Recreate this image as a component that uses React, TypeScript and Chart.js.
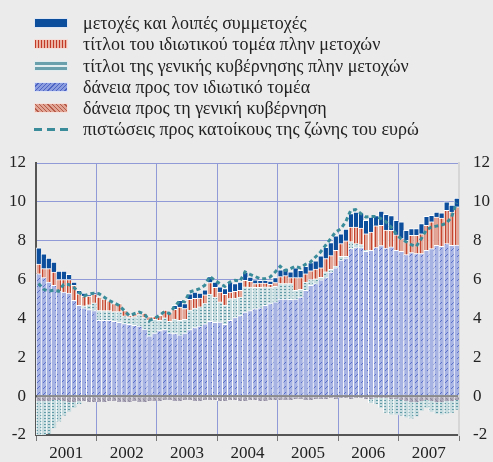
import React, { useEffect, useRef } from "react";
import { Chart, registerables } from "chart.js";

Chart.register(...registerables);

const SERIF = '"Liberation Serif", "Times New Roman", Times, serif';

const YEARS = ["2001", "2002", "2003", "2004", "2005", "2006", "2007"];
const MONTH_LABELS = YEARS.flatMap((y) =>
  ["01", "02", "03", "04", "05", "06", "07", "08", "09", "10", "11", "12"].map((m) => `${y}-${m}`)
);
const Y_TICKS = [-2, 0, 2, 4, 6, 8, 10, 12];

// δάνεια προς τον ιδιωτικό τομέα
const loansPrivate = [
  6.3, 6.1, 5.87, 5.7, 5.4, 5.35, 5.3, 4.93, 4.67, 4.55, 4.45, 4.4,
  3.9, 3.9, 3.9, 3.85, 3.8, 3.73, 3.7, 3.64, 3.6, 3.45, 3.1, 3.25,
  3.38, 3.43, 3.25, 3.22, 3.15, 3.25, 3.43, 3.53, 3.6, 3.72, 3.85, 3.8,
  3.81, 3.69, 3.9, 4.05, 4.15, 4.33, 4.41, 4.5, 4.55, 4.67, 4.76, 4.85,
  5.0, 5.0, 4.98, 5.0, 5.1, 5.44, 5.7, 5.79, 5.99, 6.1, 6.38, 6.6,
  7.0, 7.1, 7.6, 7.65, 7.65, 7.45, 7.5, 7.65, 7.75, 7.62, 7.68, 7.5,
  7.46, 7.28, 7.39, 7.34, 7.34, 7.5, 7.59, 7.76, 7.71, 7.85, 7.76, 7.78,
];
// δάνεια προς τη γενική κυβέρνηση
const loansGov = [
  -0.25, -0.25, -0.25, -0.2, -0.2, -0.25, -0.3, -0.3, -0.25, -0.25, -0.3, -0.3,
  -0.3, -0.3, -0.25, -0.25, -0.3, -0.3, -0.3, -0.25, -0.3, -0.3, -0.25, -0.25,
  -0.25, -0.2, -0.2, -0.25, -0.25, -0.2, -0.2, -0.25, -0.25, -0.2, -0.2, -0.2,
  -0.25, -0.25, -0.2, -0.2, -0.25, -0.25, -0.2, -0.2, -0.25, -0.25, -0.2, -0.2,
  -0.2, -0.2, -0.2, -0.15, -0.15, -0.2, -0.2, -0.15, -0.15, -0.15, -0.1, -0.15,
  -0.1, -0.1, -0.15, -0.1, -0.1, -0.15, -0.15, -0.1, -0.1, -0.1, -0.15, -0.15,
  -0.2, -0.25, -0.3, -0.3, -0.25, -0.2, -0.25, -0.3, -0.3, -0.25, -0.25, -0.2,
];
// τίτλοι της γενικής κυβέρνησης πλην μετοχών
const govSecurities = [
  -1.85, -1.85, -1.7, -1.45, -1.1, -0.75, -0.5, -0.3, -0.15, 0.1, 0.25, 0.4,
  0.51, 0.5, 0.5, 0.5, 0.55, 0.4, 0.35, 0.45, 0.6, 0.6, 0.8, 0.7,
  0.52, 0.6, 0.6, 0.75, 0.75, 0.7, 1.0, 1.0, 1.0, 1.05, 1.4, 1.3,
  1.04, 1.0, 1.12, 1.0, 0.95, 1.29, 1.2, 1.1, 1.05, 0.95, 0.85, 0.8,
  0.8, 0.8, 0.82, 0.45, 0.4, 0.43, 0.3, 0.25, 0.12, 0.3, 0.15, 0.1,
  0.2, 0.1, 0.35, 0.2, 0.15, 0.05, -0.2, -0.3, -0.5, -0.75, -0.8, -0.8,
  -0.8, -0.85, -0.85, -0.75, -0.5, -0.4, -0.55, -0.6, -0.65, -0.65, -0.6, -0.5,
];
// τίτλοι του ιδιωτικού τομέα πλην μετοχών
const privSecurities = [
  0.5, 0.46, 0.69, 0.69, 0.6, 0.65, 0.7, 0.77, 0.6, 0.5, 0.45, 0.45,
  0.69, 0.6, 0.51, 0.41, 0.41, 0.28, 0.1, 0.18, 0.13, 0.22, 0.2, 0.15,
  0.26, 0.4, 0.42, 0.5, 0.69, 0.56, 0.55, 0.5, 0.45, 0.45, 0.6, 0.5,
  0.51, 0.55, 0.34, 0.35, 0.35, 0.34, 0.3, 0.2, 0.22, 0.2, 0.15, 0.2,
  0.35, 0.4, 0.3, 0.65, 0.6, 0.43, 0.45, 0.5, 0.5, 0.68, 0.7, 0.8,
  0.65, 0.8, 0.75, 0.85, 0.85, 0.86, 0.95, 1.12, 1.04, 0.93, 0.85, 0.8,
  0.65, 0.74, 0.89, 0.94, 1.02, 1.29, 1.38, 1.46, 1.46, 1.72, 1.72, 1.97,
];
// μετοχές και λοιπές συμμετοχές
const shares = [
  0.84, 0.77, 0.54, 0.51, 0.44, 0.44, 0.27, 0.17, 0.17, 0.15, 0.05, 0.05,
  0, 0, 0, 0, 0, 0, 0, 0, 0, 0, 0, 0,
  0, 0, 0, 0.2, 0.34, 0.25, 0.29, 0.33, 0.25, 0.25, 0.31, 0.27,
  0.26, 0.29, 0.51, 0.39, 0.42, 0.43, 0.22, 0.19, 0.14, 0.14, 0.16, 0.25,
  0.35, 0.36, 0.3, 0.5, 0.37, 0.38, 0.42, 0.43, 0.61, 0.58, 0.67, 0.75,
  0.51, 0.6, 0.7, 0.77, 0.78, 0.69, 0.77, 0.53, 0.74, 0.81, 0.77, 0.75,
  0.86, 0.52, 0.34, 0.34, 0.52, 0.47, 0.34, 0.26, 0.26, 0.43, 0.35, 0.45,
];
// πιστώσεις προς κατοίκους της ζώνης του ευρώ
const totalCredit = [
  5.8, 5.5, 5.4, 5.45, 5.4, 5.75, 5.75, 5.6, 5.35, 5.15, 5.25, 5.3,
  5.27, 5.1, 4.93, 4.8, 4.67, 4.41, 4.15, 4.24, 4.33, 4.24, 3.9, 4.0,
  4.15, 4.35, 4.25, 4.6, 4.9, 4.85, 5.36, 5.44, 5.53, 5.7, 6.16, 5.96,
  5.79, 5.65, 5.87, 5.96, 5.92, 6.39, 6.27, 6.16, 6.04, 6.04, 6.13, 6.39,
  6.68, 6.47, 6.56, 6.68, 6.6, 6.78, 6.9, 7.16, 7.42, 7.76, 8.1, 8.45,
  8.6, 8.97, 9.56, 9.6, 9.4, 9.22, 9.25, 9.25, 9.14, 8.97, 8.71, 8.36,
  8.1, 7.95, 7.8, 7.7, 8.1, 8.55, 8.7, 8.75, 8.8, 8.9, 9.2, 9.95,
];

const LEGEND = [
  "μετοχές και λοιπές συμμετοχές",
  "τίτλοι του ιδιωτικού τομέα πλην μετοχών",
  "τίτλοι της γενικής κυβέρνησης πλην μετοχών",
  "δάνεια προς τον ιδιωτικό τομέα",
  "δάνεια προς τη γενική κυβέρνηση",
  "πιστώσεις προς κατοίκους της ζώνης του ευρώ",
];

const GRID = "#8f9ad6";

function makePattern(w: number, h: number, draw: (g: CanvasRenderingContext2D) => void) {
  const c = document.createElement("canvas");
  c.width = w;
  c.height = h;
  const g = c.getContext("2d")!;
  draw(g);
  return g.createPattern(c, "repeat")!;
}

const swatchStyles: React.CSSProperties[] = [
  { background: "#0c4d9c", boxShadow: "0 0 0 1px #dfe6f3" },
  {
    background: "repeating-linear-gradient(90deg, #c23a26 0 1.5px, #ebb3a3 1.5px 3px)",
    boxShadow: "0 0 0 1px #f3e0dc",
  },
  {
    background: "linear-gradient(180deg, #6aa0ac 0 3px, #e4eef0 3px 5px, #6aa0ac 5px 8px)",
    boxShadow: "0 0 0 1px #e0ecee",
  },
  {
    background: "repeating-linear-gradient(135deg, #8b9ddf 0 2px, #4d64c4 2px 3px)",
    boxShadow: "0 0 0 1px #e0e5f5",
  },
  {
    background: "repeating-linear-gradient(45deg, #e0a594 0 2px, #b85a48 2px 3px)",
    boxShadow: "0 0 0 1px #f3e2dd",
  },
];

export default function App() {
  const ref = useRef<HTMLCanvasElement | null>(null);

  useEffect(() => {
    const canvas = ref.current!;
    const blueHatch = makePattern(6, 6, (g) => {
      g.fillStyle = "#a7b3e3";
      g.fillRect(0, 0, 6, 6);
      g.fillStyle = "#5a70c8";
      g.fillRect(1, 4, 1, 1);
      g.fillRect(2, 3, 1, 1);
      g.fillRect(3, 2, 1, 1);
    });
    const salmonHatch = makePattern(4, 4, (g) => {
      g.fillStyle = "#e2a593";
      g.fillRect(0, 0, 4, 4);
      g.fillStyle = "#c0624e";
      for (let i = 0; i < 4; i++) g.fillRect(i, i, 1, 1);
    });
    const mauveHatch = makePattern(4, 4, (g) => {
      g.fillStyle = "#aaa5b6";
      g.fillRect(0, 0, 4, 4);
      g.fillStyle = "#8f899e";
      for (let i = 0; i < 4; i++) g.fillRect(i, i, 1, 1);
    });
    const tealDash = makePattern(4, 3, (g) => {
      g.fillStyle = "#c6dcdf";
      g.fillRect(0, 0, 4, 3);
      g.fillStyle = "#5f9aa6";
      g.fillRect(0, 1, 2, 1);
    });
    const redStripe = makePattern(7, 1, (g) => {
      g.fillStyle = "#e3a696";
      g.fillRect(0, 0, 7, 1);
      g.fillStyle = "#c4442e";
      g.fillRect(0, 0, 1, 1);
      g.fillRect(4, 0, 1, 1);
    });

    const barCommon = {
      type: "bar" as const,
      borderColor: "#ffffff",
      borderWidth: { top: 1, left: 1, right: 0, bottom: 0 },
      barPercentage: 1,
      categoryPercentage: 1,
      stack: "main",
      order: 1,
      yAxisID: "y",
    };

    const chart = new Chart(canvas, {
      type: "bar",
      data: {
        labels: MONTH_LABELS,
        datasets: [
          { ...barCommon, label: LEGEND[3], data: loansPrivate, backgroundColor: blueHatch },
          {
            ...barCommon,
            label: LEGEND[4],
            data: loansGov,
            backgroundColor: (ctx: any) =>
              ctx.raw !== undefined && ctx.raw < 0 ? mauveHatch : salmonHatch,
          },
          { ...barCommon, label: LEGEND[2], data: govSecurities, backgroundColor: tealDash },
          { ...barCommon, label: LEGEND[1], data: privSecurities, backgroundColor: redStripe },
          { ...barCommon, label: LEGEND[0], data: shares, backgroundColor: "#0c4d9c" },
          {
            type: "line",
            label: LEGEND[5],
            data: totalCredit,
            borderColor: "#3a8c9a",
            borderWidth: 3,
            borderDash: [4, 3],
            pointRadius: 0,
            fill: false,
            tension: 0,
            stack: "line",
            order: 0,
            yAxisID: "y",
          } as any,
        ],
      },
      options: {
        animation: false,
        responsive: false,
        devicePixelRatio: 1,
        layout: { padding: { top: 163, left: 0, right: 0, bottom: 0 } },
        plugins: { legend: { display: false }, tooltip: { enabled: false } },
        scales: {
          x: {
            type: "category",
            stacked: true,
            offset: true,
            grid: {
              offset: true,
              drawTicks: true,
              tickLength: 6,
              color: (ctx: any) =>
                ctx.index === undefined || ctx.index % 12 === 0 ? GRID : "rgba(0,0,0,0)",
              tickColor: (ctx: any) =>
                ctx.index === undefined || ctx.index % 12 === 0 ? "#777777" : "rgba(0,0,0,0)",
            },
            border: { display: true, color: "#555555", width: 2 },
            ticks: {
              autoSkip: false,
              maxRotation: 0,
              minRotation: 0,
              padding: 2,
              labelOffset: 2.5,
              color: "#222222",
              font: { family: SERIF, size: 17 },
              callback: (_v: any, i: number) => (i % 12 === 5 ? YEARS[Math.floor(i / 12)] : ""),
            },
            afterFit: (s: any) => {
              s.height = 27;
            },
          },
          y: {
            position: "left",
            stacked: true,
            min: -2,
            max: 12,
            afterBuildTicks: (s: any) => {
              s.ticks = Y_TICKS.map((v) => ({ value: v }));
            },
            grid: {
              drawTicks: false,
              color: (ctx: any) => (ctx.tick && ctx.tick.value === 0 ? "#8a8a8a" : GRID),
              lineWidth: (ctx: any) => (ctx.tick && ctx.tick.value === 0 ? 2 : 1),
            },
            border: { display: true, color: "#555555", width: 2 },
            ticks: {
              padding: 10,
              color: "#222222",
              font: { family: SERIF, size: 17 },
            },
            afterFit: (s: any) => {
              s.width = 36;
            },
          },
          y2: {
            position: "right",
            min: -2,
            max: 12,
            afterBuildTicks: (s: any) => {
              s.ticks = Y_TICKS.map((v) => ({ value: v }));
            },
            grid: { display: false, drawTicks: false },
            border: { display: true, color: "#d6d6d6", width: 2 },
            ticks: {
              padding: 14,
              color: "#222222",
              font: { family: SERIF, size: 17 },
            },
            afterFit: (s: any) => {
              s.width = 34;
            },
          },
        },
      } as any,
    });
    return () => chart.destroy();
  }, []);

  const rowY = [22.7, 44.3, 65.7, 87.3, 108.3, 129.3];

  return (
    <div
      style={{
        position: "absolute",
        left: 0,
        top: 0,
        width: 493,
        height: 462,
        background: "#ebebeb",
        overflow: "hidden",
        fontFamily: SERIF,
      }}
    >
      <canvas
        ref={ref}
        width={493}
        height={462}
        style={{ position: "absolute", left: 0, top: 0, width: 493, height: 462 }}
      />
      {LEGEND.map((t, i) => (
        <React.Fragment key={t}>
          {i < 5 ? (
            <div
              style={{
                position: "absolute",
                left: 35,
                top: rowY[i] - 4,
                width: 32,
                height: 8,
                ...swatchStyles[i],
              }}
            />
          ) : (
            <div
              style={{
                position: "absolute",
                left: 34,
                top: rowY[i] - 1.5,
                width: 34,
                height: 3,
                background: "repeating-linear-gradient(90deg, #3a8c9a 0 8px, rgba(0,0,0,0) 8px 13px)",
              }}
            />
          )}
          <div
            style={{
              position: "absolute",
              left: 83,
              top: rowY[i] - 12,
              height: 24,
              lineHeight: "24px",
              fontSize: 18,
              color: "#222222",
              whiteSpace: "nowrap",
            }}
          >
            {t}
          </div>
        </React.Fragment>
      ))}
    </div>
  );
}
